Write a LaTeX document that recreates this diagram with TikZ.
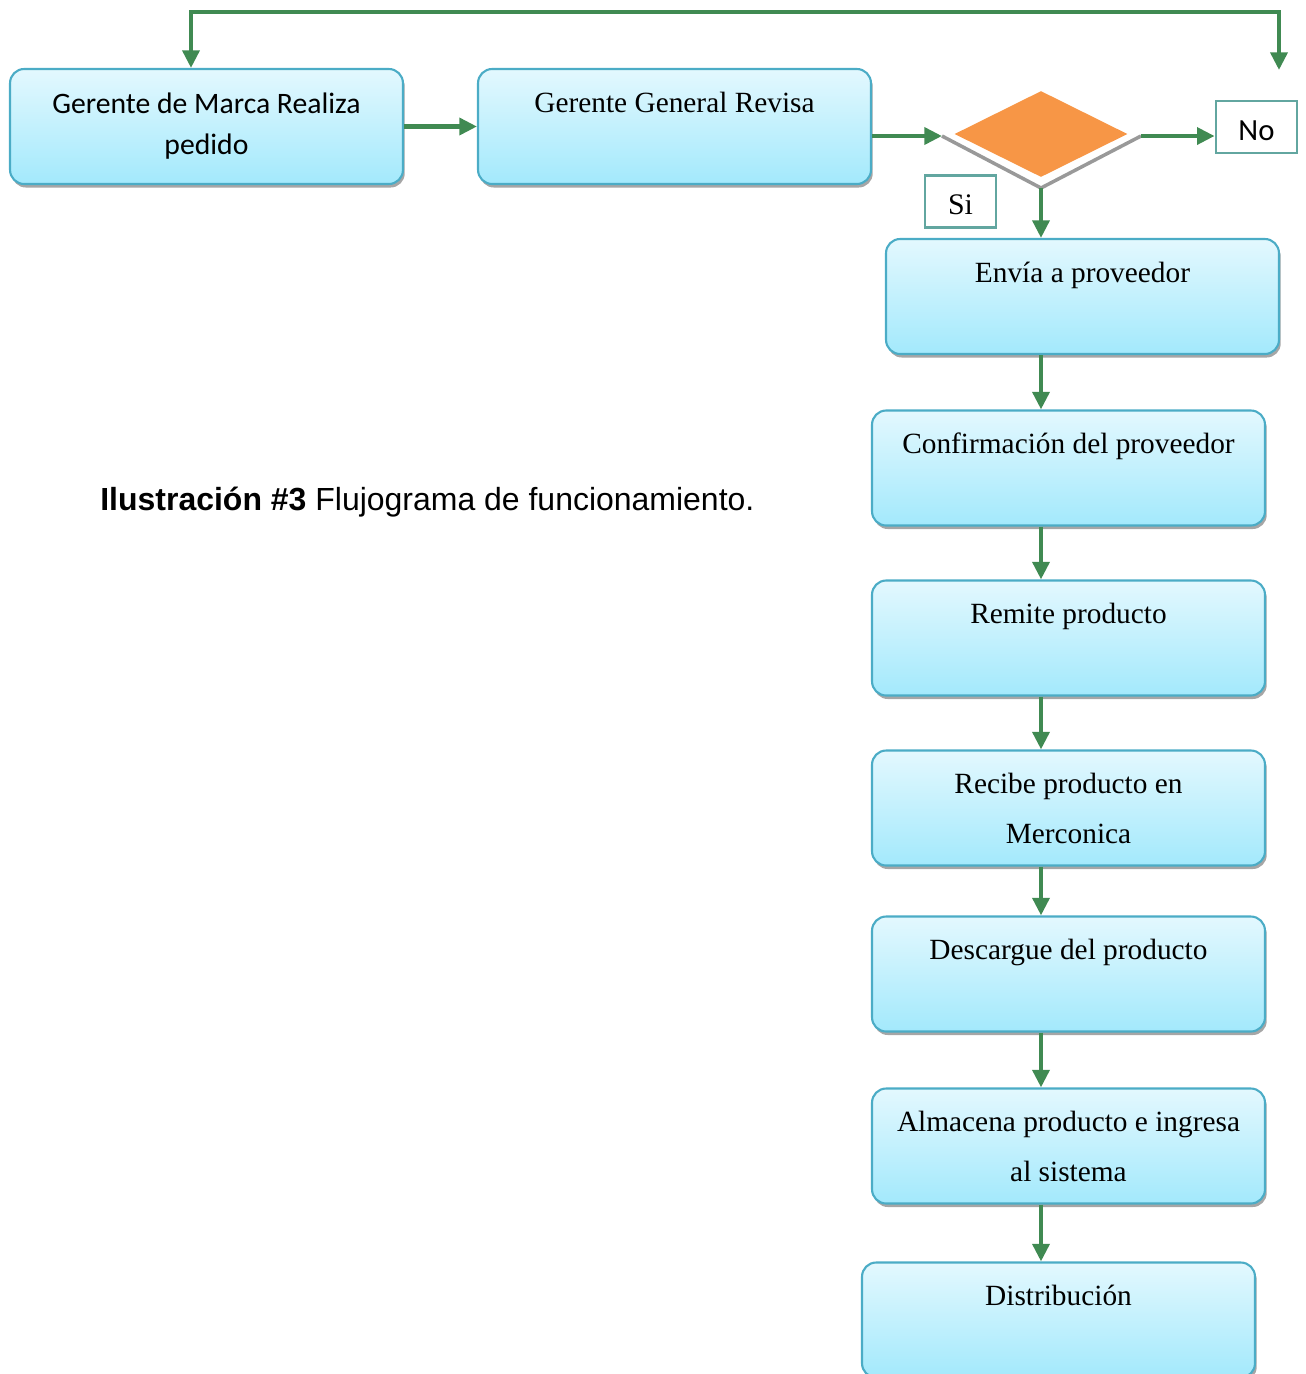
\documentclass[tikz,border=0pt]{standalone}
\usepackage{fontspec}
\setmainfont{Liberation Serif}
\newfontfamily\calibri{Carlito}
\newfontfamily\arial{Liberation Sans}
\usetikzlibrary{shapes.geometric, shadows, arrows.meta}
\definecolor{flowgreen}{RGB}{64,138,82}
\definecolor{boxline}{RGB}{75,172,198}
\definecolor{boxtop}{RGB}{227,248,254}
\definecolor{boxbottom}{RGB}{163,233,252}
\definecolor{decorange}{RGB}{247,150,70}
\definecolor{tagline}{RGB}{98,166,160}

\begin{document}
\begin{tikzpicture}[x=0.02cm, y=-0.02cm, >={Triangle[length=10pt, width=9.5pt]},
    box/.style={rectangle, rounded corners=8pt, draw=boxline, line width=1.2pt,
        top color=boxtop, bottom color=boxbottom, minimum width=7.86cm, minimum height=2.3cm,
        drop shadow={shadow xshift=1pt, shadow yshift=-2pt, fill=black!50, opacity=.7}},
    boxtext/.style={anchor=north, yshift=-5pt, inner sep=0pt, align=center,
        font=\fontsize{16.7}{28.5}\selectfont, execute at begin node=\strut},
    twolines/.style={boxtext, yshift=-8pt},
    sanstext/.style={boxtext, yshift=-9pt, font=\calibri\fontsize{16.9}{23.3}\selectfont},
    flow/.style={draw=flowgreen, line width=2.4pt, ->},
    bevel/.style={draw=black!40, line width=2pt},
    tag/.style={draw=tagline, line width=1.6pt, inner sep=0pt, minimum height=1.04cm, text height=15pt}]
    \useasboundingbox (0,0) rectangle (1306,1374);

    \node[box, label={[sanstext]north:Gerente de Marca Realiza\\pedido}] (marca) at (206.5,126.5) {};
    \node[box, label={[boxtext]north:Gerente General Revisa}] (revisa) at (674.5,126.5) {};
    \node[diamond, fill=decorange, inner sep=0pt, minimum width=3.46cm, minimum height=1.72cm] (dec) at (1041,134) {};
    \coordinate (decL) at (942,136);
    \coordinate (decB) at (1041,188);
    \coordinate (decR) at (1141,136);
    \draw[bevel] (decL) -- (decB) -- (decR);
    \node[tag, minimum width=1.62cm, font=\calibri\fontsize{17.5}{20}\selectfont] (no) at (1256.5,127) {No};
    \node[tag, minimum width=1.42cm, font=\fontsize{17}{20}\selectfont] (si) at (960.5,201.5) {Si};

    \node[box, label={[boxtext]north:Envía a proveedor}] (envia) at (1082.5,296.5) {};
    \node[box, label={[boxtext]north:Confirmación del proveedor}] (confirma) at (1068.5,468) {};
    \node[box, label={[boxtext]north:Remite producto}] (remite) at (1068.5,638) {};
    \node[box, label={[twolines]north:Recibe producto en\\Merconica}] (recibe) at (1068.5,808) {};
    \node[box, label={[boxtext]north:Descargue del producto}] (descarga) at (1068.5,974) {};
    \node[box, label={[twolines]north:Almacena producto e ingresa\\al sistema}] (almacena) at (1068.5,1146) {};
    \node[box, label={[boxtext]north:Distribución}] (distrib) at (1058.5,1320) {};

    \node[anchor=west, inner sep=0pt, font=\arial\fontsize{18.2}{20}\selectfont] (titulo) at (100,502)
        {\textbf{Ilustración \#3} Flujograma de funcionamiento.};

    \coordinate (loopL) at (191,12);
    \coordinate (loopR) at (1279,70);
    \draw[flow, <->] (marca.north -| loopL) -- (loopL) -| (loopR);
    \draw[flow] (marca) -- (revisa);
    \draw[flow] (revisa.east |- decL) -- (decL);
    \draw[flow] (decR) -- (no.west |- decR);
    \draw[flow] (decB) -- (envia.north -| decB);
    \draw[flow] (envia.south -| decB) -- (confirma.north -| decB);
    \draw[flow] (confirma.south -| decB) -- (remite.north -| decB);
    \draw[flow] (remite.south -| decB) -- (recibe.north -| decB);
    \draw[flow] (recibe.south -| decB) -- (descarga.north -| decB);
    \draw[flow] (descarga.south -| decB) -- (almacena.north -| decB);
    \draw[flow] (almacena.south -| decB) -- (distrib.north -| decB);
\end{tikzpicture}
\end{document}
